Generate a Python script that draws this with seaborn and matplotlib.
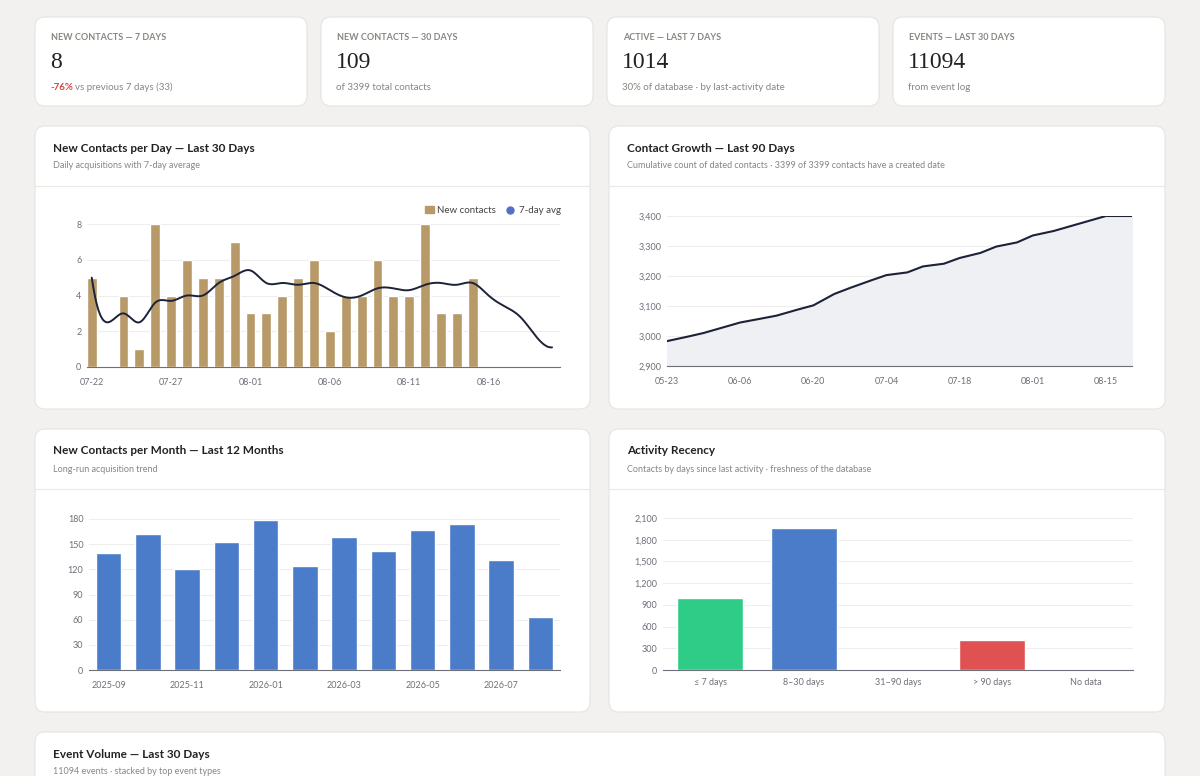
import matplotlib
matplotlib.use("Agg")
import matplotlib.pyplot as plt
import matplotlib.dates as mdates
from matplotlib.patches import FancyBboxPatch
from matplotlib.ticker import FuncFormatter, MultipleLocator
import seaborn as sns
import pandas as pd
import numpy as np

sns.set_theme(style="white")
plt.rcParams['font.family'] = ['Lato', 'DejaVu Sans']

# ---------------- data ----------------
kpi_titles = ["NEW CONTACTS — 7 DAYS", "NEW CONTACTS — 30 DAYS", "ACTIVE — LAST 7 DAYS", "EVENTS — LAST 30 DAYS"]
kpi_values = ["8", "109", "1014", "11094"]
kpi_notes = ["vs previous 7 days (33)", "of 3399 total contacts", "30% of database · by last-activity date", "from event log"]

daily_dates = pd.date_range("2025-07-22", "2025-08-20", freq="D")
daily_new = [5, 0, 4, 1, 8, 4, 6, 5, 5, 7, 3, 3, 4, 5, 6, 2, 4, 4, 6, 4, 4, 8, 3, 3, 5, 0, 0, 0, 0, 0]
daily_avg = [5.0, 2.5, 3.0, 2.5, 3.6, 3.7, 4.0, 4.0, 4.7, 5.1, 5.4, 4.7, 4.7, 4.6, 4.7, 4.3, 3.9, 4.0, 4.4, 4.4,
             4.3, 4.6, 4.7, 4.6, 4.7, 4.0, 3.4, 2.8, 1.7, 1.1]

growth_dates = pd.to_datetime(["2025-05-23", "2025-05-27", "2025-05-30", "2025-06-03", "2025-06-06", "2025-06-10",
                               "2025-06-13", "2025-06-17", "2025-06-20", "2025-06-24", "2025-06-27", "2025-07-01",
                               "2025-07-04", "2025-07-08", "2025-07-11", "2025-07-15", "2025-07-18", "2025-07-22",
                               "2025-07-25", "2025-07-29", "2025-08-01", "2025-08-05", "2025-08-08", "2025-08-12",
                               "2025-08-15", "2025-08-20"])
growth_vals = [2983, 2998, 3010, 3030, 3045, 3058, 3068, 3088, 3102, 3140, 3160, 3185, 3203, 3212, 3232, 3241,
               3260, 3277, 3298, 3312, 3335, 3350, 3365, 3385, 3400, 3400]

month_labels = ["2025-09", "2025-10", "2025-11", "2025-12", "2026-01", "2026-02", "2026-03", "2026-04",
                "2026-05", "2026-06", "2026-07", "2026-08"]
month_vals = [140, 162, 120, 153, 179, 124, 159, 142, 167, 174, 131, 63]

recency_labels = ["≤ 7 days", "8–30 days", "31–90 days", "> 90 days", "No data"]
recency_vals = [1000, 1960, 0, 420, 0]
recency_colors = ["#2ecc87", "#4a7cc9", "#4a7cc9", "#e05252", "#999999"]

# ---------------- layout ----------------
W, H = 1200, 776
fig = plt.figure(figsize=(12, 7.76), dpi=100)
fig.patch.set_facecolor("#f2f1ef")
bg = fig.add_axes([0, 0, 1, 1])
bg.set_xlim(0, W); bg.set_ylim(H, 0); bg.axis("off")

def card(x0, y0, x1, y1):
    bg.add_patch(FancyBboxPatch((x0, y0), x1 - x0, y1 - y0, boxstyle="round,pad=0,rounding_size=10",
                                fc="white", ec="#e6e4e0", lw=0.8))

def pax(x0, y0, x1, y1):
    return fig.add_axes([x0 / W, 1 - y1 / H, (x1 - x0) / W, (y1 - y0) / H])

tc = "#8a8680"
# KPI cards
kx = [35, 321, 607, 893]
for i, x in enumerate(kx):
    card(x, 17, x + 272, 106)
    bg.text(x + 16, 37, kpi_titles[i], fontsize=6.5, color="#8a8680", weight="bold", va="center")
    bg.text(x + 15, 63, kpi_values[i], fontsize=17, color="#222222", family="Liberation Serif", va="center")
    if i == 0:
        bg.text(x + 15, 87, "-76%", fontsize=7, color="#d64545", weight="bold", va="center")
        bg.text(x + 40, 87, kpi_notes[i], fontsize=7, color=tc, va="center")
    else:
        bg.text(x + 15, 87, kpi_notes[i], fontsize=7, color=tc, va="center")

def chart_card(x0, y0, x1, y1, title, sub):
    card(x0, y0, x1, y1)
    bg.text(x0 + 18, y0 + 22, title, fontsize=8.5, weight="bold", color="#222222", va="center")
    bg.text(x0 + 18, y0 + 40, sub, fontsize=6.5, color=tc, va="center")
    bg.plot([x0, x1], [y0 + 60, y0 + 60], color="#ebe9e6", lw=0.8)

chart_card(35, 126, 590, 409, "New Contacts per Day — Last 30 Days", "Daily acquisitions with 7-day average")
chart_card(609, 126, 1165, 409, "Contact Growth — Last 90 Days",
           "Cumulative count of dated contacts · 3399 of 3399 contacts have a created date")
chart_card(35, 429, 590, 712, "New Contacts per Month — Last 12 Months", "Long-run acquisition trend")
chart_card(609, 429, 1165, 712, "Activity Recency", "Contacts by days since last activity · freshness of the database")
card(35, 732, 1165, 800)
bg.text(53, 754, "Event Volume — Last 30 Days", fontsize=8.5, weight="bold", color="#222222", va="center")
bg.text(53, 771, "11094 events · stacked by top event types", fontsize=6.5, color=tc, va="center")

def style(ax):
    ax.set_facecolor("none")
    for s in ["top", "right", "left"]:
        ax.spines[s].set_visible(False)
    ax.spines["bottom"].set_color("#6e7079")
    ax.spines["bottom"].set_linewidth(0.8)
    ax.grid(axis="y", color="#eeeeee", lw=0.8)
    ax.set_axisbelow(True)
    ax.tick_params(axis="both", labelsize=6.5, colors="#6e7079", length=0, pad=4)
    ax.tick_params(axis="x", length=4, color="#6e7079", direction="out")
    ax.set_xlabel(""); ax.set_ylabel("")

# Chart 1
ax1 = pax(87, 224, 560, 367)
n = len(daily_new)
df1 = pd.DataFrame({"i": np.arange(n), "v": daily_new})
ax1.bar(df1["i"], df1["v"], width=0.62, color="#b89a68", label="New contacts")
from scipy.interpolate import make_interp_spline
xs = np.linspace(0, n - 1, 400)
ys = make_interp_spline(np.arange(n), daily_avg, k=3)(xs)
sns.lineplot(x=xs, y=ys, ax=ax1, color="#1c2238", lw=1.4, label="7-day avg")
ax1.set_xlim(-0.3, n - 0.5)
ax1.set_ylim(0, 8)
ax1.set_yticks([0, 2, 4, 6, 8])
ax1.set_xticks(range(0, n, 5))
ax1.set_xticklabels([d.strftime("%m-%d") for d in daily_dates[::5]])
style(ax1)
from matplotlib.lines import Line2D
from matplotlib.patches import Patch
ax1.legend(handles=[Patch(color="#b89a68", label="New contacts"),
                    Line2D([], [], color="#5470c6", marker="o", lw=0, markersize=5, label="7-day avg")],
           loc="lower right", bbox_to_anchor=(1.02, 1.0), ncol=2, frameon=False, fontsize=7,
           handlelength=0.9, handletextpad=0.4, columnspacing=1.0, labelcolor="#444444")

# Chart 2
ax2 = pax(667, 216, 1132, 366)
sns.lineplot(x=growth_dates, y=growth_vals, ax=ax2, color="#1c2238", lw=1.5)
ax2.fill_between(growth_dates, growth_vals, 2900, color="#eef0f3")
ax2.set_ylim(2900, 3400)
ax2.set_xlim(growth_dates[0], growth_dates[-1])
ax2.set_yticks([2900, 3000, 3100, 3200, 3300, 3400])
ax2.yaxis.set_major_formatter(FuncFormatter(lambda v, p: f"{int(v):,}"))
ax2.set_xticks(pd.date_range("2025-05-23", "2025-08-20", freq="14D"))
ax2.xaxis.set_major_formatter(mdates.DateFormatter("%m-%d"))
style(ax2)

# Chart 3
ax3 = pax(89, 519, 560, 670)
df3 = pd.DataFrame({"m": month_labels, "v": month_vals})
sns.barplot(data=df3, x="m", y="v", ax=ax3, color="#4a7cc9", saturation=1, width=0.65)
ax3.set_ylim(0, 180)
ax3.set_yticks(range(0, 181, 30))
ax3.set_xlim(-0.5, 11.5)
ax3.set_xticks(range(0, 12, 2))
ax3.set_xticklabels(month_labels[::2])
style(ax3)

# Chart 4
ax4 = pax(663, 518, 1133, 670)
df4 = pd.DataFrame({"c": recency_labels, "v": recency_vals})
sns.barplot(data=df4, x="c", y="v", hue="c", palette=recency_colors, ax=ax4, saturation=1, width=0.7, legend=False)
ax4.set_ylim(0, 2100)
ax4.set_yticks(range(0, 2101, 300))
ax4.yaxis.set_major_formatter(FuncFormatter(lambda v, p: f"{int(v):,}"))
ax4.set_xlim(-0.5, 4.5)
style(ax4)
ax4.set_xticks([-0.5, 0.5, 1.5, 2.5, 3.5, 4.5], minor=False)
ax4.set_xticklabels([])
ax4.set_xticks(range(5), minor=True)
ax4.set_xticklabels(recency_labels, minor=True)
ax4.tick_params(axis="x", which="minor", length=0, labelsize=6.5, colors="#6e7079", pad=6)

fig.savefig("out.png", dpi=100, facecolor=fig.get_facecolor())
